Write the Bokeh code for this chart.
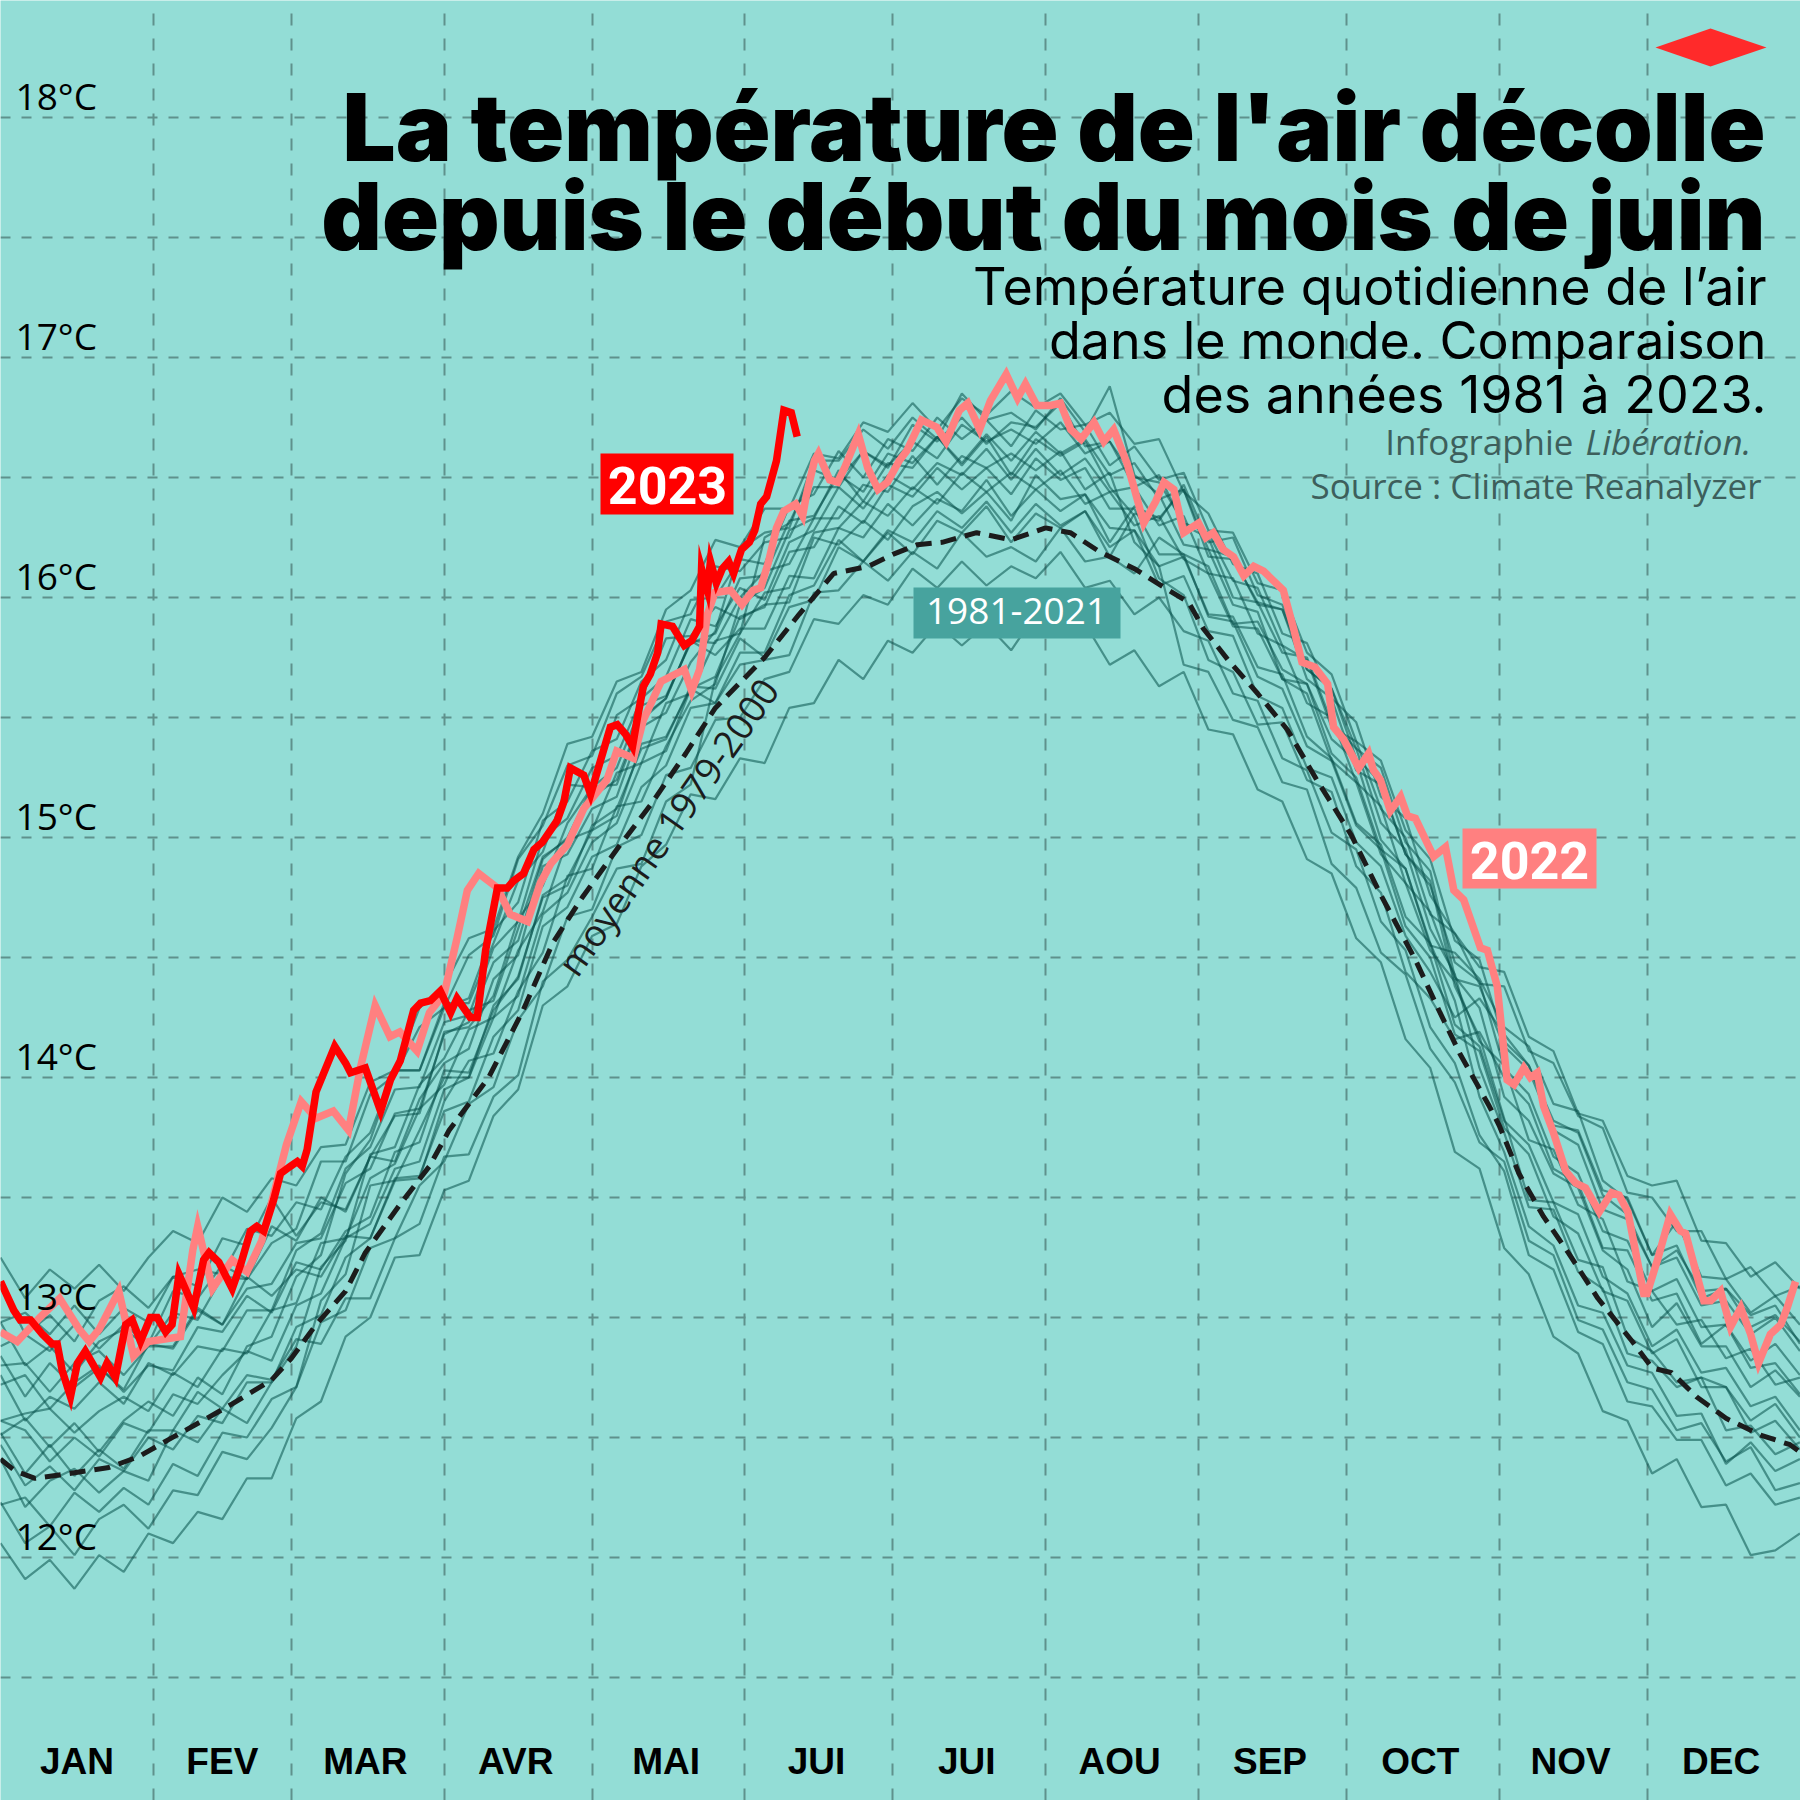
from bokeh.plotting import figure
from bokeh.models import Range1d, FixedTicker
from bokeh.embed import file_html
from bokeh.resources import INLINE
from bokeh.core.properties import value

# ------------------------------------------------------------------ data
month_labels = ["JAN", "FEV", "MAR", "AVR", "MAI", "JUI", "JUI", "AOU", "SEP", "OCT", "NOV", "DEC"]
month_mid_days = [15.5, 45, 74, 104.5, 135, 165.5, 196, 227, 257.5, 288, 318.5, 349]
month_start_days = [31, 59, 90, 120, 151, 181, 212, 243, 273, 304, 334]
temp_ticks = [12, 13, 14, 15, 16, 17, 18]
temp_tick_labels = ["12°C", "13°C", "14°C", "15°C", "16°C", "17°C", "18°C"]
grid_temps = [11.5, 12, 12.5, 13, 13.5, 14, 14.5, 15, 15.5, 16, 16.5, 17, 17.5, 18, 18.5]

# moyenne 1979-2000 (day of year, °C)
mean_days = [0, 3, 7, 14, 22, 28, 34, 41, 47, 55, 59, 64, 70, 74, 81, 87, 91, 99, 106, 112, 118, 125,
             132, 139, 145, 155, 162, 169, 176, 181, 186, 191, 198, 205, 212, 217, 223, 230, 237, 241,
             244, 249, 255, 261, 267, 274, 280, 287, 292, 296, 302, 304, 308, 313, 318, 324, 331, 335,
             339, 344, 350, 357, 363, 365]
mean_temps = [12.41, 12.36, 12.33, 12.35, 12.375, 12.42, 12.49, 12.57, 12.64, 12.74, 12.83, 12.97, 13.11,
              13.27, 13.47, 13.63, 13.78, 14.0, 14.28, 14.56, 14.75, 14.95, 15.14, 15.35, 15.54, 15.75,
              15.93, 16.10, 16.13, 16.18, 16.22, 16.23, 16.27, 16.24, 16.29, 16.27, 16.19, 16.12, 16.03,
              15.98, 15.87, 15.74, 15.60, 15.45, 15.24, 15.01, 14.76, 14.49, 14.27, 14.10, 13.88, 13.80,
              13.60, 13.42, 13.27, 13.08, 12.90, 12.79, 12.77, 12.67, 12.58, 12.51, 12.47, 12.44]

# 2022
days_2022 = [0, 3.4, 8, 12, 16, 18, 20, 24, 27, 30, 36.5, 39, 40, 43, 47, 50, 53, 56, 58, 61, 64, 67.5,
             70.6, 73, 76, 79, 81, 84.5, 87, 90, 92.6, 94.7, 97, 100.8, 103.4, 106.9, 109.5, 111.6, 115,
             118.3, 123, 125, 128.4, 130.4, 134, 138.7, 140.2, 141.8, 143.4, 144.9, 148.1, 150.4, 152.7,
             154.2, 155.8, 157.4, 158.9, 161.3, 162.7, 163.5, 165.1, 165.9, 168.2, 169.8, 171.2, 174,
             175.9, 178, 179.9, 182.3, 183.8, 186.8, 189.9, 191.8, 194.5, 196.2, 198.6, 200.8, 204,
             206.3, 207.9, 210.2, 213, 215, 217.1, 219.2, 221.8, 223.8, 225.8, 228.5, 229.9, 231.9,
             234.3, 236, 238, 240, 243, 244.5, 246, 248, 250.1, 252.2, 254.2, 256.2, 260.2, 262.3, 264,
             266.6, 269.2, 270.4, 272.4, 275.5, 277.5, 278.5, 279.9, 281.9, 284, 285.4, 287, 290.7,
             293.1, 294.8, 296.8, 300.2, 301.6, 303.6, 304.5, 305.6, 307, 309, 310.3, 311.7, 313, 315,
             317.5, 319.5, 321.5, 324.3, 326.8, 328.3, 330.1, 333.3, 334, 336.1, 338.7, 340.8, 341.8,
             345.5, 346.9, 348.9, 350.9, 353, 355, 356.6, 359, 361.1, 362.4, 364.1]
temps_2022 = [12.94, 12.90, 13.00, 13.08, 12.95, 12.90, 12.95, 13.11, 12.84, 12.90, 12.92, 13.28, 13.38,
              13.12, 13.24, 13.19, 13.32, 13.56, 13.72, 13.90, 13.83, 13.86, 13.78, 14.04, 14.30, 14.17,
              14.19, 14.11, 14.27, 14.35, 14.58, 14.78, 14.85, 14.79, 14.68, 14.65, 14.81, 14.89, 14.97,
              15.12, 15.24, 15.36, 15.33, 15.49, 15.65, 15.70, 15.61, 15.70, 15.93, 16.02, 16.03, 15.97,
              16.03, 16.04, 16.15, 16.29, 16.36, 16.39, 16.34, 16.43, 16.57, 16.60, 16.49, 16.48, 16.54,
              16.68, 16.54, 16.45, 16.48, 16.57, 16.61, 16.74, 16.71, 16.65, 16.78, 16.81, 16.70, 16.82,
              16.93, 16.83, 16.89, 16.80, 16.80, 16.81, 16.70, 16.66, 16.73, 16.65, 16.70, 16.56, 16.46,
              16.31, 16.40, 16.48, 16.45, 16.27, 16.31, 16.25, 16.27, 16.20, 16.17, 16.09, 16.13, 16.11,
              16.03, 15.87, 15.73, 15.71, 15.64, 15.46, 15.41, 15.29, 15.35, 15.28, 15.24, 15.11, 15.17,
              15.09, 15.08, 14.92, 14.96, 14.78, 14.74, 14.54, 14.53, 14.38, 14.20, 13.99, 13.97, 14.04,
              14.00, 14.02, 13.88, 13.77, 13.61, 13.56, 13.54, 13.44, 13.52, 13.51, 13.44, 13.10, 13.10,
              13.24, 13.43, 13.36, 13.35, 13.07, 13.07, 13.11, 12.96, 13.04, 12.93, 12.81, 12.93, 12.97,
              13.04, 13.15]

# 2023
days_2023 = [0, 2.7, 4, 6.1, 8.5, 10.5, 11.5, 12.5, 14.2, 15.6, 17.2, 20.3, 21.6, 23.3, 25.4, 26.7,
             28.4, 30.4, 31.8, 33.5, 34.8, 36.2, 39.2, 41.2, 42.3, 44.3, 47, 48.7, 50.7, 52, 53.4, 55.4,
             56.8, 58.8, 60.2, 61.2, 62.2, 64, 66, 67.8, 70, 71, 74, 77.1, 79.1, 81.1, 83.8, 85.2, 87.2,
             89.2, 91.3, 92.6, 95.3, 96.7, 98.4, 100.8, 102.8, 104.1, 106.1, 108.2, 109.9, 112.9, 114.3,
             115.6, 118.3, 119.7, 121.7, 123.7, 125.1, 126.8, 128.2, 129.2, 130.4, 131.8, 133.3, 134,
             136.3, 138.7, 140.2, 141.8, 142.2, 143.4, 144, 145.2, 146.4, 147.7, 148.7, 150.3, 151.9,
             153, 154.2, 155.4, 157.4, 158.9, 160.4, 161.6]
temps_2023 = [13.15, 13.03, 12.99, 12.99, 12.93, 12.89, 12.89, 12.78, 12.67, 12.81, 12.86, 12.75, 12.81,
              12.75, 12.97, 12.99, 12.90, 13.00, 13.00, 12.94, 12.97, 13.18, 13.04, 13.24, 13.27, 13.23,
              13.12, 13.22, 13.36, 13.38, 13.36, 13.49, 13.60, 13.63, 13.65, 13.63, 13.70, 13.94, 14.04,
              14.13, 14.06, 14.02, 14.04, 13.86, 13.99, 14.07, 14.28, 14.31, 14.32, 14.36, 14.27, 14.33,
              14.25, 14.25, 14.53, 14.79, 14.79, 14.82, 14.85, 14.95, 14.98, 15.07, 15.15, 15.29, 15.26,
              15.18, 15.32, 15.46, 15.47, 15.43, 15.38, 15.50, 15.63, 15.68, 15.77, 15.89, 15.88, 15.80,
              15.82, 15.88, 16.12, 16.03, 16.15, 16.06, 16.12, 16.15, 16.10, 16.20, 16.23, 16.28, 16.39,
              16.42, 16.57, 16.78, 16.77, 16.67]

# 1981-2021 individual years (read every 5 days)
spag_days = list(range(0, 366, 5))
spag_a = [13.25, 13.08, 13.20, 13.12, 13.22, 13.11, 13.25, 13.36, 13.31, 13.50, 13.44, 13.58,
          13.55, 13.71, 13.72, 13.98, 14.03, 14.29, 14.38, 14.58, 14.62, 14.92, 15.10, 15.39, 15.42, 15.65, 15.69, 15.95, 16.03, 16.24, 16.21,
          16.37, 16.37, 16.60, 16.58, 16.73, 16.69, 16.81, 16.70, 16.83, 16.76, 16.86, 16.79, 16.85, 16.72, 16.77, 16.64, 16.66,
          16.44, 16.35, 16.14, 16.10, 15.85, 15.81, 15.58, 15.48, 15.17, 15.08, 14.76, 14.60, 14.39,
          14.38, 14.11, 14.06, 13.84, 13.79, 13.52, 13.50, 13.36, 13.36, 13.16, 13.21, 13.09, 13.13]
spag_b = [12.98, 13.02, 12.93, 13.05, 12.93, 13.04, 12.98, 13.17, 13.20, 13.18, 13.37, 13.34,
          13.48, 13.45, 13.67, 13.77, 14.03, 14.03, 14.29, 14.33, 14.61, 14.73, 15.07, 15.15, 15.36, 15.41, 15.65, 15.74, 15.99, 16.00, 16.16,
          16.14, 16.38, 16.43, 16.61, 16.50, 16.66, 16.61, 16.75, 16.66, 16.74, 16.63, 16.78, 16.70, 16.72, 16.55, 16.63, 16.49,
          16.52, 16.28, 16.27, 16.06, 16.03, 15.77, 15.68, 15.40, 15.32, 15.03, 14.91, 14.57, 14.49,
          14.15, 14.05, 13.82, 13.77, 13.51, 13.43, 13.21, 13.28, 13.11, 13.12, 12.96, 13.01, 12.90]
spag_c = [12.98, 12.80, 12.88, 12.77, 12.90, 12.95, 12.88, 13.02, 12.99, 13.17, 13.16, 13.31,
          13.37, 13.65, 13.65, 13.93, 14.01, 14.21, 14.29, 14.51, 14.59, 14.91, 15.05, 15.30, 15.34, 15.60, 15.67, 15.90, 15.93, 16.13, 16.11,
          16.23, 16.25, 16.46, 16.46, 16.61, 16.55, 16.65, 16.58, 16.72, 16.65, 16.70, 16.64, 16.73, 16.60, 16.65, 16.50, 16.48,
          16.31, 16.27, 16.07, 16.04, 15.80, 15.74, 15.46, 15.40, 15.12, 15.00, 14.68, 14.60, 14.46,
          14.44, 14.17, 14.11, 13.85, 13.82, 13.59, 13.55, 13.57, 13.32, 13.31, 13.17, 13.23, 13.12]
spag_d = [12.80, 12.81, 12.69, 12.81, 12.86, 12.76, 12.88, 12.88, 13.04, 12.97, 13.12, 13.14,
          13.31, 13.33, 13.56, 13.62, 13.85, 13.87, 14.18, 14.23, 14.48, 14.57, 14.91, 15.00, 15.21, 15.29, 15.55, 15.59, 15.81, 15.85, 16.08,
          16.09, 16.32, 16.34, 16.51, 16.44, 16.60, 16.56, 16.67, 16.56, 16.68, 16.57, 16.69, 16.60, 16.66, 16.51, 16.56, 16.41,
          16.45, 16.20, 16.17, 15.97, 15.95, 15.70, 15.62, 15.33, 15.23, 14.93, 14.80, 14.48, 14.40,
          14.04, 13.93, 13.67, 13.60, 13.36, 13.32, 13.11, 13.16, 12.96, 12.97, 12.82, 12.89, 12.76]
spag_e = [12.76, 12.57, 12.67, 12.62, 12.73, 12.64, 12.81, 12.76, 12.88, 12.86, 13.03, 13.03,
          13.28, 13.35, 13.62, 13.71, 13.95, 13.96, 14.23, 14.26, 14.54, 14.65, 15.00, 15.08, 15.29, 15.34, 15.58, 15.67, 15.91, 15.88, 16.04,
          15.99, 16.23, 16.28, 16.46, 16.37, 16.51, 16.45, 16.56, 16.51, 16.62, 16.49, 16.62, 16.51, 16.58, 16.44, 16.46, 16.30,
          16.34, 16.10, 16.08, 15.85, 15.80, 15.56, 15.50, 15.23, 15.13, 14.81, 14.69, 14.41, 14.38,
          14.13, 14.03, 13.78, 13.72, 13.45, 13.41, 13.21, 13.25, 13.05, 13.07, 12.93, 13.00, 12.86]
spag_f = [12.57, 12.60, 12.62, 12.52, 12.61, 12.67, 12.61, 12.77, 12.71, 12.87, 12.85, 13.03,
          13.06, 13.31, 13.33, 13.58, 13.64, 13.87, 13.97, 14.20, 14.25, 14.53, 14.69, 14.99, 15.03, 15.27, 15.31, 15.56, 15.60, 15.82, 15.85,
          16.02, 16.04, 16.27, 16.29, 16.40, 16.34, 16.46, 16.39, 16.52, 16.44, 16.52, 16.45, 16.53, 16.39, 16.44, 16.30, 16.34,
          16.16, 16.10, 15.88, 15.87, 15.66, 15.60, 15.32, 15.23, 14.93, 14.81, 14.53, 14.40, 14.15,
          14.05, 13.74, 13.70, 13.47, 13.41, 13.15, 13.11, 12.97, 12.99, 12.83, 12.87, 12.72, 12.75]
spag_g = [12.57, 12.53, 12.40, 12.50, 12.42, 12.56, 12.52, 12.68, 12.64, 12.76, 12.86, 12.82,
          13.05, 13.10, 13.33, 13.39, 13.62, 13.65, 13.95, 14.00, 14.25, 14.34, 14.68, 14.77, 14.98, 15.06, 15.31, 15.36, 15.62, 15.67, 15.92,
          15.96, 16.19, 16.21, 16.38, 16.31, 16.47, 16.42, 16.54, 16.45, 16.54, 16.43, 16.58, 16.49, 16.54, 16.37, 16.37, 16.18,
          16.18, 15.92, 15.90, 15.67, 15.62, 15.38, 15.32, 15.05, 14.95, 14.63, 14.50, 14.18, 14.11,
          13.79, 13.68, 13.42, 13.35, 13.11, 13.07, 12.85, 12.91, 12.71, 12.71, 12.57, 12.64, 12.50]
spag_h = [12.47, 12.30, 12.38, 12.28, 12.41, 12.36, 12.50, 12.45, 12.59, 12.56, 12.73, 12.73,
          12.96, 13.01, 13.25, 13.33, 13.58, 13.59, 13.86, 13.90, 14.17, 14.28, 14.63, 14.71, 14.92, 14.97, 15.21, 15.30, 15.54, 15.56, 15.77,
          15.77, 16.01, 16.05, 16.24, 16.15, 16.28, 16.23, 16.36, 16.29, 16.40, 16.27, 16.39, 16.30, 16.36, 16.21, 16.28, 16.13,
          16.17, 15.93, 15.92, 15.71, 15.68, 15.42, 15.33, 15.06, 14.97, 14.67, 14.56, 14.22, 14.13,
          13.82, 13.72, 13.48, 13.43, 13.17, 13.10, 12.88, 12.95, 12.77, 12.79, 12.63, 12.67, 12.53]
spag_i = [12.22, 12.25, 12.13, 12.27, 12.19, 12.29, 12.22, 12.39, 12.34, 12.52, 12.50, 12.66,
          12.71, 12.98, 13.03, 13.29, 13.33, 13.55, 13.65, 13.89, 13.96, 14.24, 14.38, 14.67, 14.70, 14.96, 15.01, 15.26, 15.29, 15.49, 15.50,
          15.66, 15.69, 15.91, 15.89, 16.01, 15.97, 16.12, 16.04, 16.15, 16.05, 16.13, 16.08, 16.19, 16.04, 16.07, 15.93, 16.00,
          15.86, 15.82, 15.60, 15.57, 15.33, 15.28, 15.02, 14.95, 14.65, 14.53, 14.21, 14.06, 13.76,
          13.61, 13.26, 13.20, 12.94, 12.89, 12.65, 12.63, 12.49, 12.49, 12.30, 12.35, 12.22, 12.25]
spag_j = [12.06, 11.91, 11.99, 11.87, 12.01, 11.94, 12.10, 12.06, 12.19, 12.16, 12.33, 12.33,
          12.58, 12.65, 12.92, 13.00, 13.25, 13.26, 13.53, 13.57, 13.84, 13.95, 14.30, 14.38, 14.59, 14.64, 14.88, 14.97, 15.18, 15.16, 15.33,
          15.31, 15.54, 15.56, 15.74, 15.66, 15.82, 15.77, 15.89, 15.80, 15.89, 15.78, 15.93, 15.84, 15.89, 15.72, 15.78, 15.63,
          15.69, 15.45, 15.43, 15.20, 15.15, 14.91, 14.85, 14.58, 14.48, 14.16, 14.04, 13.69, 13.62,
          13.29, 13.18, 12.92, 12.85, 12.61, 12.57, 12.35, 12.41, 12.21, 12.22, 12.01, 12.03, 12.10]
spag_k = [13.14, 12.93, 13.01, 12.90, 13.07, 13.13, 13.04, 13.17, 13.13, 13.33, 13.30, 13.50,
          13.34, 13.48, 13.45, 13.67, 13.65, 13.91, 14.06, 14.12, 14.41, 14.51, 14.88, 14.93, 15.12, 15.17, 15.46, 15.52, 15.73, 15.86, 16.20,
          16.27, 16.29, 16.57, 16.57, 16.70, 16.62, 16.75, 16.66, 16.85, 16.74, 16.77, 16.70, 16.83, 16.69, 16.88, 16.51, 16.43,
          16.22, 16.20, 15.97, 15.94, 15.66, 15.64, 15.41, 15.32, 14.99, 14.87, 14.55, 14.52, 14.41,
          14.21, 14.13, 13.89, 13.86, 13.57, 13.49, 13.26, 13.40, 13.17, 13.16, 13.02, 13.09, 12.97]
spag_l = [12.51, 12.58, 12.46, 12.56, 12.44, 12.57, 12.65, 12.59, 12.75, 12.68, 12.88, 12.92,
          13.17, 13.26, 13.60, 13.74, 14.03, 14.03, 14.31, 14.31, 14.56, 14.82, 14.94, 15.22, 15.21, 15.51, 15.58, 15.83, 15.84, 15.96, 15.91,
          15.97, 15.98, 16.25, 16.22, 16.32, 16.24, 16.38, 16.44, 16.35, 16.44, 16.32, 16.51, 16.41, 16.43, 16.23, 16.38, 16.33,
          16.45, 16.17, 16.16, 15.98, 15.95, 15.66, 15.58, 15.28, 15.22, 14.93, 14.82, 14.38, 14.17,
          13.83, 13.49, 13.48, 13.24, 13.21, 12.92, 12.86, 12.73, 12.75, 12.71, 12.52, 12.57, 12.45]
spag_m = [12.84, 12.67, 12.81, 12.71, 12.79, 12.70, 12.89, 12.87, 13.03, 12.97, 13.17, 13.09,
          13.20, 13.17, 13.34, 13.33, 13.57, 13.58, 13.90, 14.07, 14.10, 14.36, 14.52, 14.84, 14.87, 15.13, 15.15, 15.38, 15.57, 15.64, 15.97,
          16.04, 16.28, 16.33, 16.53, 16.40, 16.56, 16.54, 16.67, 16.55, 16.67, 16.51, 16.66, 16.59, 16.65, 16.46, 16.34, 16.08,
          16.01, 15.74, 15.69, 15.47, 15.48, 15.24, 15.19, 14.88, 14.77, 14.44, 14.33, 14.16, 14.19,
          14.00, 13.89, 13.62, 13.56, 13.29, 13.28, 13.07, 13.10, 12.89, 12.97, 12.79, 12.81, 12.68]
spag_n = [12.23, 12.06, 12.13, 12.01, 12.16, 12.22, 12.12, 12.28, 12.26, 12.44, 12.41, 12.54,
          12.71, 13.07, 13.18, 13.55, 13.57, 13.78, 14.00, 14.00, 14.30, 14.41, 14.76, 14.83, 15.03, 15.09, 15.39, 15.42, 15.62, 15.56, 15.72,
          15.74, 15.76, 16.02, 16.03, 16.15, 16.07, 16.19, 16.12, 16.27, 16.17, 16.21, 16.15, 16.29, 16.15, 16.17, 16.10, 16.25,
          16.18, 16.13, 15.89, 15.90, 15.70, 15.64, 15.35, 15.25, 14.95, 14.87, 14.56, 14.32, 13.92,
          13.69, 13.38, 13.30, 13.05, 13.02, 12.80, 12.77, 12.59, 12.60, 12.39, 12.48, 12.36, 12.41]
spag_o = [12.88, 12.93, 12.86, 12.97, 12.87, 12.97, 12.89, 13.11, 13.08, 13.22, 13.16, 13.38,
          13.32, 13.50, 13.44, 13.67, 13.84, 13.85, 14.19, 14.21, 14.34, 14.66, 14.80, 15.06, 15.21, 15.22, 15.49, 15.58, 15.82, 15.76, 15.87,
          15.87, 16.09, 16.08, 16.29, 16.25, 16.39, 16.30, 16.41, 16.36, 16.49, 16.34, 16.45, 16.36, 16.43, 16.29, 16.28, 16.05,
          16.09, 15.86, 15.84, 15.59, 15.54, 15.29, 15.25, 14.98, 14.88, 14.59, 14.44, 14.25, 14.33,
          14.18, 14.05, 13.80, 13.78, 13.53, 13.50, 13.26, 13.30, 13.08, 13.12, 13.01, 13.05, 12.89]
spag_p = [12.52, 12.35, 12.47, 12.34, 12.45, 12.37, 12.53, 12.53, 12.69, 12.62, 12.76, 12.74,
          12.91, 12.89, 13.08, 13.08, 13.33, 13.39, 13.67, 13.68, 13.92, 14.01, 14.40, 14.49, 14.67, 14.87, 14.89, 15.15, 15.22, 15.66, 15.85,
          16.25, 16.31, 16.53, 16.49, 16.61, 16.54, 16.72, 16.65, 16.75, 16.64, 16.73, 16.71, 16.81, 16.63, 16.65, 16.46, 16.51,
          16.30, 16.25, 16.00, 15.98, 15.77, 15.75, 15.48, 15.37, 15.06, 14.95, 14.62, 14.43, 14.04,
          13.77, 13.46, 13.45, 13.19, 13.12, 12.85, 12.82, 12.71, 12.75, 12.53, 12.55, 12.43, 12.48]
spag_q = [12.72, 12.76, 12.62, 12.73, 12.80, 12.69, 12.80, 12.78, 12.96, 12.94, 13.09, 13.02,
          13.23, 13.20, 13.36, 13.42, 13.69, 13.73, 14.03, 14.02, 14.28, 14.42, 14.75, 14.80, 15.05, 15.12, 15.37, 15.41, 15.63, 15.62, 15.83,
          15.75, 15.96, 15.99, 16.21, 16.15, 16.27, 16.18, 16.32, 16.27, 16.38, 16.23, 16.35, 16.29, 16.36, 16.17, 16.35, 16.32,
          16.47, 16.23, 16.25, 16.01, 15.97, 15.70, 15.62, 15.37, 15.29, 14.98, 14.86, 14.42, 14.29,
          13.92, 13.82, 13.60, 13.54, 13.28, 13.20, 12.96, 13.06, 12.88, 12.88, 12.71, 12.78, 12.67]
spag_r = [12.41, 12.21, 12.32, 12.37, 12.27, 12.36, 12.32, 12.53, 12.48, 12.62, 12.56, 12.73,
          12.88, 13.21, 13.32, 13.68, 13.71, 13.97, 14.08, 14.28, 14.32, 14.62, 14.92, 14.99, 15.17, 15.24, 15.50, 15.58, 15.82, 15.81, 16.00,
          16.11, 16.14, 16.33, 16.33, 16.47, 16.44, 16.59, 16.47, 16.59, 16.54, 16.60, 16.53, 16.61, 16.45, 16.52, 16.23, 16.13,
          15.72, 15.69, 15.49, 15.46, 15.23, 15.20, 14.89, 14.79, 14.52, 14.43, 14.12, 13.98, 13.73,
          13.65, 13.32, 13.26, 12.99, 12.95, 12.73, 12.70, 12.53, 12.56, 12.40, 12.46, 12.28, 12.31]
spaghetti = [spag_a, spag_b, spag_c, spag_d, spag_e, spag_f, spag_g, spag_h, spag_i,
             spag_j, spag_k, spag_l, spag_m, spag_n, spag_o, spag_p, spag_q, spag_r]

title_lines = ["La température de l'air décolle", "depuis le début du mois de juin"]
subtitle_lines = ["Température quotidienne de l’air", "dans le monde. Comparaison", "des années 1981 à 2023."]

# ------------------------------------------------------------------ placement helpers (reference pixels -> data)
PX_PER_DAY = 4.93
PX_PER_DEG = 240.0
def X(px):
    return px / PX_PER_DAY
def Y(py):
    return 12 + (1557 - py) / PX_PER_DEG
def BASE(py, size, k):
    # anchor so that the rendered alphabetic baseline lands on py
    return Y(py - k * size)

BG = "#93ddd6"
GRID = "#5f918c"
W = H = 1800

p = figure(width=W, height=H,
           x_range=Range1d(X(0), X(W)), y_range=Range1d(Y(H), Y(0)),
           x_axis_location=None, y_axis_location=None,
           toolbar_location=None, output_backend="svg", min_border=0,
           background_fill_color=BG, border_fill_color=BG, outline_line_color=None)

p.xgrid.ticker = FixedTicker(ticks=month_start_days)
p.xgrid.grid_line_color = GRID
p.xgrid.grid_line_width = 2
p.xgrid.grid_line_dash = "12 13"
p.ygrid.ticker = FixedTicker(ticks=grid_temps)
p.ygrid.grid_line_color = GRID
p.ygrid.grid_line_width = 2
p.ygrid.grid_line_dash = "10 11"

# spaghetti 1981-2021
p.multi_line(xs=[spag_days] * len(spaghetti), ys=spaghetti,
             line_color="#05514b", line_alpha=0.55, line_width=2.2)

# mean 1979-2000
p.line(mean_days, mean_temps, line_color="#1c1c1c", line_width=5, line_dash="16 9")

# 2022 / 2023
p.line(days_2022, temps_2022, line_color="#ff8080", line_width=7.5, line_join="miter")
p.line(days_2023, temps_2023, line_color="#ff0000", line_width=7.5, line_join="miter")

# y tick labels
p.text(x=[X(15)] * len(temp_ticks), y=[t + (8 + 0.38 * 37) / PX_PER_DEG for t in temp_ticks],
       text=temp_tick_labels, text_font=value("Open Sans"), text_font_size="37px", text_color="#000000",
       text_align="left", text_baseline="alphabetic")

# month labels
p.text(x=month_mid_days, y=[BASE(1773, 37, 0.33)] * len(month_mid_days), text=month_labels,
       text_font=value("Liberation Sans"), text_font_style="bold", text_font_size="37px",
       text_color="#000000", text_align="center", text_baseline="alphabetic")

# series label boxes
p.quad(left=[X(600)], right=[X(733)], top=[Y(453)], bottom=[Y(514)], fill_color="#ff0000", line_color=None)
p.text(x=[X(667)], y=[BASE(502, 52, 0.33)], text=["2023"], text_font=value("Roboto"),
       text_font_style="bold", text_font_size="52px", text_color="white",
       text_align="center", text_baseline="alphabetic")
p.quad(left=[X(1462)], right=[X(1596)], top=[Y(828)], bottom=[Y(888)], fill_color="#ff8080", line_color=None)
p.text(x=[X(1529)], y=[BASE(877, 52, 0.33)], text=["2022"], text_font=value("Roboto"),
       text_font_style="bold", text_font_size="52px", text_color="white",
       text_align="center", text_baseline="alphabetic")
p.quad(left=[X(913)], right=[X(1120)], top=[Y(587)], bottom=[Y(638)], fill_color="#47a39e", line_color=None)
p.text(x=[X(1016)], y=[BASE(625, 37, 0.38)], text=["1981-2021"], text_font=value("Open Sans"),
       text_font_size="37px", text_color="white", text_align="center", text_baseline="alphabetic")

# rotated mean label
p.text(x=[X(667)], y=[Y(826)], text=["moyenne 1979-2000"], angle=0.956,
       text_font=value("Open Sans"), text_font_size="37px", text_color="#1c1c1c",
       text_align="center", text_baseline="middle")

# title
p.text(x=[X(1765), X(1765)], y=[BASE(158, 94, 0.34), BASE(247, 94, 0.34)], text=title_lines,
       text_font=value("Inter Black, Inter"), text_font_style="bold", text_font_size="94px",
       text_color="#000000", text_align="right", text_baseline="alphabetic")
# subtitle
p.text(x=[X(1766)] * 3, y=[BASE(304, 52, 0.34), BASE(358, 52, 0.34), BASE(412, 52, 0.34)],
       text=subtitle_lines, text_font=value("Inter"), text_font_size="52px", text_color="#000000",
       text_align="right", text_baseline="alphabetic")
# credits
p.text(x=[X(1573)], y=[BASE(454, 35, 0.38)], text=["Infographie"], text_font=value("Open Sans"),
       text_font_size="35px", text_color="#3d5f5c", text_align="right", text_baseline="alphabetic")
p.text(x=[X(1585)], y=[BASE(454, 35, 0.38)], text=["Libération."], text_font=value("Open Sans"),
       text_font_style="italic", text_font_size="35px", text_color="#3d5f5c",
       text_align="left", text_baseline="alphabetic")
p.text(x=[X(1761)], y=[BASE(498, 35, 0.38)], text=["Source : Climate Reanalyzer"], text_font=value("Open Sans"),
       text_font_size="35px", text_color="#3d5f5c", text_align="right", text_baseline="alphabetic")

# logo diamond
p.patch(x=[X(1655), X(1710), X(1766), X(1710)], y=[Y(47), Y(28), Y(47), Y(66)],
        fill_color="#ff2a2a", line_color=None)

open("out.html", "w").write(file_html(p, INLINE))
